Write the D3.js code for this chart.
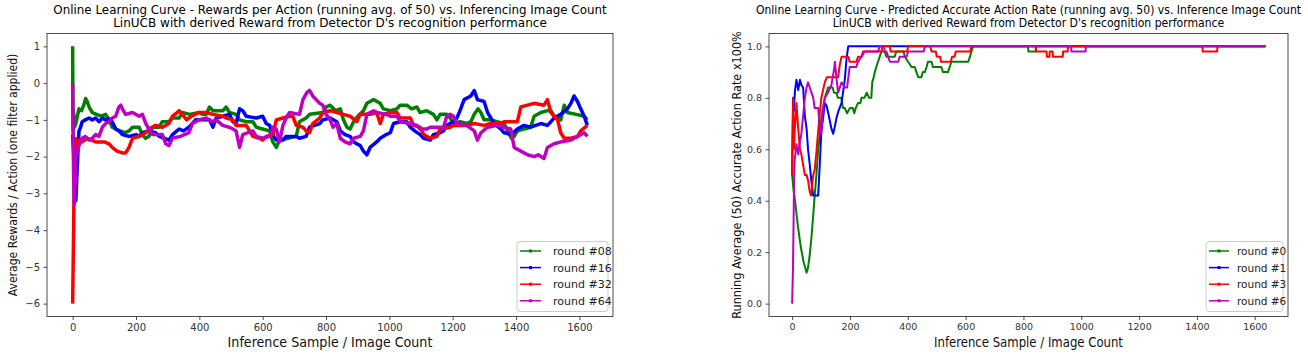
<!DOCTYPE html>
<html>
<head>
<meta charset="utf-8">
<script src="https://cdn.jsdelivr.net/npm/d3@7"></script>
<style>
  body { margin: 0; background: #fff; }
  svg text { font-family: "DejaVu Sans", sans-serif; }
  .axis path, .axis line { stroke: #222; stroke-width: 0.8; }
  .axis text { fill: #333; }
</style>
</head>
<body>
<svg id="chart" width="1308" height="355"></svg>
<script>
// ---- left chart: rewards per action, running avg of 50 ----
const reward08 = [[0,1],[1,-1.3],[3,-0.8],[6,-1.2],[10,-1.1],[15,-0.9],[20,-0.7],[28,-0.75],[35,-0.6],[41,-0.42],[46,-0.5],[52,-0.65],[62,-0.8],[75,-0.85],[90,-0.9],[104,-0.85],[115,-1.0],[125,-1.2],[136,-1.25],[150,-1.3],[165,-1.35],[178,-1.3],[189,-1.2],[210,-1.2],[220,-1.4],[230,-1.5],[241,-1.45],[252,-1.2],[273,-1.2],[283,-1.05],[304,-1.05],[315,-0.95],[336,-0.95],[346,-0.8],[370,-0.85],[399,-0.8],[410,-0.85],[422,-0.85],[432,-0.65],[443,-0.75],[474,-0.75],[485,-0.65],[495,-0.8],[516,-0.85],[527,-1.0],[548,-1.05],[569,-1.05],[580,-1.2],[600,-1.25],[622,-1.3],[632,-1.6],[643,-1.75],[653,-1.55],[680,-1.5],[706,-1.45],[716,-1.05],[737,-0.95],[748,-0.85],[790,-0.8],[800,-0.65],[813,-0.6],[830,-0.75],[845,-0.7],[855,-1.0],[866,-1.2],[876,-1.25],[887,-1.05],[900,-0.9],[918,-0.75],[929,-0.55],[950,-0.45],[971,-0.55],[981,-0.7],[1003,-0.75],[1024,-0.7],[1034,-0.6],[1055,-0.6],[1070,-0.7],[1087,-0.65],[1097,-0.8],[1118,-0.75],[1139,-0.85],[1150,-1.0],[1160,-0.85],[1181,-0.85],[1192,-0.95],[1202,-1.1],[1223,-1.05],[1244,-1.1],[1257,-1.05],[1268,-0.85],[1280,-0.7],[1289,-0.8],[1299,-1.0],[1320,-1.0],[1340,-1.05],[1362,-1.1],[1373,-1.3],[1385,-1.5],[1394,-1.45],[1404,-1.3],[1425,-1.25],[1446,-1.2],[1457,-0.9],[1478,-0.8],[1499,-0.75],[1510,-0.75],[1520,-0.9],[1541,-1.0],[1552,-0.6],[1562,-0.8],[1590,-0.85],[1615,-0.9],[1625,-1.0]];
const reward16 = [[0,-1.4],[3,-1.9],[6,-2.6],[10,-3.2],[13,-2.6],[16,-2.0],[20,-1.3],[25,-1.2],[30,-1.05],[40,-1.0],[52,-0.95],[62,-1.0],[73,-0.95],[83,-1.05],[94,-0.95],[104,-1.0],[115,-0.97],[125,-1.05],[136,-1.25],[146,-1.3],[157,-1.4],[178,-1.45],[200,-1.4],[210,-1.45],[220,-1.35],[241,-1.3],[262,-1.35],[273,-1.45],[290,-1.5],[304,-1.55],[315,-1.4],[336,-1.25],[350,-1.3],[367,-1.2],[388,-1.0],[400,-1.0],[422,-1.0],[432,-1.0],[443,-1.2],[453,-0.95],[474,-0.9],[495,-0.85],[506,-1.05],[516,-1.1],[527,-0.7],[537,-0.75],[548,-0.9],[580,-0.95],[600,-0.9],[611,-1.1],[622,-1.15],[632,-1.4],[643,-1.55],[664,-1.55],[674,-1.45],[706,-1.45],[716,-1.5],[737,-1.45],[748,-1.2],[780,-1.1],[790,-1.0],[813,-0.95],[834,-1.05],[845,-1.3],[860,-1.4],[876,-1.45],[887,-1.6],[908,-1.7],[918,-1.85],[929,-1.95],[939,-1.75],[960,-1.6],[971,-1.5],[990,-1.4],[1003,-1.35],[1013,-1.1],[1034,-1.05],[1055,-1.05],[1066,-1.2],[1080,-1.3],[1097,-1.4],[1108,-1.5],[1129,-1.55],[1139,-1.4],[1160,-1.35],[1171,-1.3],[1181,-1.15],[1202,-1.05],[1213,-0.95],[1223,-0.75],[1236,-0.45],[1257,-0.35],[1268,-0.2],[1278,-0.45],[1299,-0.5],[1310,-0.8],[1331,-1.1],[1352,-1.25],[1362,-1.35],[1385,-1.4],[1404,-1.25],[1425,-1.15],[1446,-1.2],[1478,-1.1],[1499,-1.15],[1510,-1.05],[1520,-0.95],[1541,-0.85],[1562,-0.7],[1573,-0.55],[1583,-0.35],[1594,-0.5],[1604,-0.7],[1615,-0.9],[1625,-1.15]];
const reward32 = [[0,-6],[3,-4],[5,-2.5],[8,-1.5],[12,-1.8],[16,-1.6],[20,-1.55],[30,-1.6],[45,-1.5],[60,-1.55],[73,-1.6],[83,-1.6],[100,-1.6],[115,-1.65],[125,-1.75],[140,-1.85],[157,-1.9],[167,-1.9],[178,-1.75],[189,-1.5],[210,-1.45],[231,-1.35],[241,-1.25],[262,-1.15],[283,-1.2],[304,-1.1],[315,-0.9],[330,-0.8],[336,-0.75],[346,-0.85],[360,-1.0],[375,-0.9],[399,-0.8],[422,-0.8],[443,-0.85],[474,-0.9],[485,-0.95],[506,-1.0],[516,-1.15],[548,-1.15],[569,-1.45],[590,-1.5],[600,-1.55],[611,-1.45],[632,-1.4],[643,-1.0],[664,-0.95],[685,-0.9],[695,-0.9],[706,-1.15],[727,-1.2],[737,-1.3],[748,-1.35],[758,-1.1],[780,-0.95],[790,-0.8],[813,-0.75],[834,-0.8],[855,-0.85],[876,-0.9],[897,-1.05],[908,-0.85],[939,-0.85],[960,-0.8],[971,-1.1],[981,-0.85],[1003,-0.8],[1024,-0.8],[1034,-0.95],[1066,-0.95],[1076,-1.15],[1097,-1.2],[1108,-1.4],[1129,-1.5],[1150,-1.45],[1160,-1.25],[1192,-1.2],[1202,-1.15],[1244,-1.15],[1268,-1.1],[1299,-1.15],[1320,-1.1],[1352,-1.1],[1362,-1.05],[1404,-1.05],[1415,-0.65],[1436,-0.6],[1457,-0.55],[1488,-0.6],[1499,-0.45],[1510,-0.8],[1531,-1.0],[1541,-1.35],[1552,-1.5],[1573,-1.5],[1594,-1.45],[1604,-1.3],[1625,-1.15]];
const reward64 = [[0,0],[3,-2.5],[5,-3.3],[8,-2.7],[10,-2.0],[14,-1.9],[20,-1.7],[30,-1.5],[40,-1.45],[52,-1.55],[62,-1.5],[73,-1.4],[83,-1.45],[94,-1.2],[104,-1.1],[115,-1.05],[125,-0.95],[136,-0.9],[146,-0.65],[152,-0.6],[157,-0.7],[167,-0.85],[189,-0.8],[210,-0.9],[220,-0.85],[231,-1.1],[241,-1.25],[252,-1.4],[283,-1.4],[294,-1.65],[304,-1.7],[315,-1.5],[340,-1.45],[367,-1.35],[378,-1.1],[399,-1.0],[422,-0.95],[440,-1.05],[453,-1.0],[474,-1.15],[495,-1.2],[506,-1.25],[516,-1.3],[527,-1.75],[537,-1.4],[569,-1.3],[580,-1.45],[600,-1.5],[622,-1.45],[632,-1.2],[643,-1.25],[653,-1.6],[664,-1.15],[674,-0.95],[685,-0.8],[716,-0.85],[727,-0.45],[740,-0.25],[748,-0.2],[758,-0.35],[780,-0.55],[790,-0.6],[800,-0.85],[813,-1.0],[822,-1.2],[834,-1.1],[845,-1.5],[860,-1.6],[876,-1.65],[887,-1.5],[908,-1.45],[918,-1.3],[929,-0.85],[950,-0.75],[960,-0.8],[992,-0.85],[1003,-0.9],[1024,-0.9],[1034,-1.05],[1066,-1.1],[1087,-1.15],[1097,-1.25],[1118,-1.25],[1129,-1.2],[1171,-1.2],[1181,-0.9],[1192,-0.85],[1202,-0.9],[1213,-1.1],[1244,-1.15],[1268,-1.3],[1278,-1.55],[1289,-1.35],[1310,-1.2],[1340,-1.15],[1360,-1.2],[1383,-1.25],[1394,-1.75],[1415,-1.85],[1436,-1.95],[1457,-2.0],[1470,-1.95],[1488,-2.05],[1499,-1.75],[1520,-1.65],[1541,-1.6],[1573,-1.55],[1594,-1.45],[1615,-1.35],[1625,-1.45]];

// ---- right chart: accurate action rate, running avg 50 ----
const rate0 = [[0,0.5],[5,0.44],[10,0.4],[20,0.3],[30,0.22],[40,0.16],[50,0.12],[55,0.14],[61,0.19],[67,0.26],[73,0.345],[78,0.42],[84,0.5],[90,0.6],[96,0.66],[101,0.72],[107,0.76],[113,0.8],[119,0.82],[124,0.84],[140,0.84],[145,0.82],[153,0.82],[158,0.8],[170,0.8],[176,0.76],[182,0.76],[190,0.74],[200,0.76],[210,0.76],[215,0.74],[220,0.76],[228,0.78],[236,0.78],[240,0.8],[250,0.8],[258,0.82],[266,0.8],[274,0.8],[277,0.86],[282,0.88],[286,0.9],[291,0.92],[297,0.94],[303,0.96],[309,0.98],[320,0.98],[326,0.96],[355,0.96],[360,0.98],[385,0.98],[390,0.96],[401,0.94],[413,0.92],[424,0.92],[430,0.9],[436,0.88],[447,0.88],[452,0.9],[459,0.9],[465,0.92],[470,0.94],[482,0.94],[487,0.92],[516,0.92],[522,0.9],[539,0.9],[545,0.92],[551,0.94],[609,0.94],[615,0.96],[620,0.98],[626,1.0],[816,1.0],[817,0.98],[843,0.98],[844,1.0],[1637,1.0]];
const rate1 = [[0,0.5],[3,0.8],[6,0.75],[10,0.83],[15,0.87],[21,0.83],[27,0.87],[32,0.85],[38,0.84],[44,0.73],[50,0.68],[55,0.6],[61,0.54],[67,0.47],[73,0.42],[90,0.42],[96,0.55],[101,0.67],[107,0.72],[113,0.78],[119,0.77],[125,0.74],[136,0.68],[142,0.66],[148,0.69],[153,0.72],[159,0.745],[171,0.78],[176,0.82],[182,0.87],[188,0.95],[194,1.0],[1637,1.0]];
const rate3 = [[0,0.5],[2,0.67],[4,0.8],[6,0.6],[9,0.67],[15,0.78],[21,0.68],[27,0.6],[32,0.58],[38,0.54],[44,0.5],[50,0.5],[55,0.48],[60,0.44],[65,0.42],[73,0.5],[78,0.52],[84,0.59],[90,0.67],[96,0.745],[101,0.8],[107,0.83],[113,0.86],[120,0.88],[159,0.88],[165,0.93],[171,0.96],[194,0.96],[199,0.94],[222,0.94],[228,0.96],[240,0.96],[245,0.98],[309,0.98],[312,1.0],[338,1.0],[341,0.98],[398,0.98],[401,1.0],[478,1.0],[482,0.98],[497,0.98],[500,0.96],[512,0.96],[515,0.94],[549,0.94],[553,0.96],[562,0.96],[566,0.98],[616,0.98],[620,1.0],[842,1.0],[843,0.98],[880,0.98],[881,0.96],[890,0.96],[891,0.98],[901,0.98],[902,0.96],[936,0.96],[937,0.98],[953,0.98],[954,1.0],[1419,1.0],[1420,0.98],[1470,0.98],[1471,1.0],[1637,1.0]];
const rate6 = [[0,0],[3,0.14],[7,0.5],[9,0.56],[15,0.62],[21,0.58],[27,0.63],[32,0.66],[38,0.73],[44,0.8],[50,0.84],[55,0.86],[61,0.84],[67,0.82],[73,0.8],[78,0.76],[90,0.76],[96,0.68],[101,0.66],[107,0.76],[113,0.8],[124,0.82],[136,0.85],[145,0.91],[148,0.94],[153,0.88],[159,0.82],[171,0.86],[182,0.84],[190,0.84],[199,0.92],[222,0.92],[228,0.94],[240,0.96],[251,0.98],[297,0.98],[303,1.0],[318,1.0],[320,0.98],[326,0.98],[332,0.96],[338,0.94],[367,0.94],[372,0.96],[396,0.96],[401,0.98],[455,0.98],[459,1.0],[965,1.0],[966,0.98],[1015,0.98],[1016,1.0],[1637,1.0]];

const xTicks = [0, 200, 400, 600, 800, 1000, 1200, 1400, 1600];
const rewardTicks = [1, 0, -1, -2, -3, -4, -5, -6];
const rateTicks = [0.0, 0.2, 0.4, 0.6, 0.8, 1.0];
const subtitle = "LinUCB with derived Reward from Detector D's recognition performance";

class LineChart {
    constructor(_config, _series) {
        this.config = _config;
        this.series = _series;
        this.initVis();
    }

    addText(parent, x, y, size, len, str) {
        const t = parent.append("text")
            .attr("text-anchor", "middle")
            .attr("font-size", size + "px")
            .text(str);
        const w = t.node().getComputedTextLength();
        t.attr("transform", `translate(${x},${y}) scale(${len / w},1)`);
        return t;
    }

    initVis() {
        let vis = this;
        const c = vis.config;
        const top = 33.5, height = 283;

        vis.xScale = d3.scaleLinear().domain(c.xDomain).range([0, c.width]);
        vis.yScale = d3.scaleLinear().domain(c.yDomain).range([height, 0]);

        vis.chart = c.svg.append("g")
            .attr("transform", `translate(${c.left},${top})`);

        const line = d3.line()
            .x(d => vis.xScale(d[0]))
            .y(d => vis.yScale(d[1]));

        vis.chart.selectAll(".series")
            .data(vis.series)
            .join("path")
            .attr("class", "series")
            .attr("fill", "none")
            .attr("stroke", d => d.color)
            .attr("stroke-width", c.strokeWidth)
            .attr("stroke-linejoin", "round")
            .attr("d", d => line(d.values));

        // axes
        const xg = vis.chart.append("g")
            .attr("class", "axis")
            .attr("transform", `translate(0,${height})`)
            .call(d3.axisBottom(vis.xScale).tickValues(xTicks).tickFormat(d3.format("d")).tickSize(3.5).tickPadding(3.5));
        const yg = vis.chart.append("g")
            .attr("class", "axis")
            .call(d3.axisLeft(vis.yScale).tickValues(c.yTicks).tickFormat(c.yFormat).tickSize(3.5).tickPadding(3.5));
        [xg, yg].forEach(g => {
            g.select(".domain").remove();
            g.selectAll("text").attr("font-size", c.tickSize + "px");
        });

        vis.chart.append("rect")
            .attr("width", c.width)
            .attr("height", height)
            .attr("fill", "none")
            .attr("stroke", "#222")
            .attr("stroke-width", 0.8);

        // titles and labels
        const cx = c.width / 2;
        vis.addText(vis.chart, cx, -20, c.titleSize, c.titleLen, c.title);
        vis.addText(vis.chart, cx, -7, c.titleSize, c.subLen, subtitle);
        vis.addText(vis.chart, cx, height + 30, c.xLabelSize, c.xLabelLen, c.xLabel)
            .attr("fill", "#111");
        vis.addText(vis.chart.append("g")
                .attr("transform", `translate(${c.yLabelX},${height / 2}) rotate(-90)`),
            0, 0, c.yLabelSize, c.yLabelLen, c.yLabel)
            .attr("fill", "#111");

        // legend
        const lw = c.legendWidth, lh = 70;
        vis.legend = vis.chart.append("g")
            .attr("transform", `translate(${c.width - lw - 5},${height - lh - 5})`);

        vis.legend.append("rect")
            .attr("width", lw).attr("height", lh)
            .attr("rx", 3)
            .attr("fill", "white")
            .attr("fill-opacity", 0.8)
            .attr("stroke", "#ccc");

        const rows = vis.legend.selectAll(".row")
            .data(vis.series)
            .join("g")
            .attr("transform", (d, i) => `translate(3,${9.5 + i * 16.6})`);

        rows.append("line")
            .attr("x1", 0).attr("x2", c.legendLine)
            .attr("stroke", d => d.color)
            .attr("stroke-width", 1.5);
        rows.append("rect")
            .attr("x", c.legendLine / 2 - 1.5).attr("y", -1.5)
            .attr("width", 3).attr("height", 3)
            .attr("fill", d => d.color);
        rows.append("text")
            .attr("x", c.legendText).attr("y", 4)
            .attr("font-size", c.legendSize + "px")
            .attr("fill", "#222")
            .text(d => d.name);
    }
}

const svg = d3.select("#chart");

new LineChart({
    svg: svg,
    left: 47,
    width: 566,
    xDomain: [-81, 1706],
    yDomain: [-6.35, 1.35],
    yTicks: rewardTicks,
    yFormat: d3.format("d"),
    tickSize: 10,
    title: "Online Learning Curve - Rewards per Action (running avg. of 50) vs. Inferencing Image Count",
    titleSize: 12.5, titleLen: 554, subLen: 434,
    xLabel: "Inference Sample / Image Count",
    xLabelSize: 14, xLabelLen: 205,
    yLabel: "Average Rewards / Action (one filter applied)",
    yLabelX: -30, yLabelSize: 12.5, yLabelLen: 243,
    strokeWidth: 3.5,
    legendWidth: 91, legendLine: 21, legendText: 33, legendSize: 11
}, [
    { name: "round #08", color: "#008000", values: reward08 },
    { name: "round #16", color: "#0000ff", values: reward16 },
    { name: "round #32", color: "#ff0000", values: reward32 },
    { name: "round #64", color: "#bf00bf", values: reward64 }
]);

new LineChart({
    svg: svg,
    left: 769,
    width: 519,
    xDomain: [-80, 1715],
    yDomain: [-0.05, 1.05],
    yTicks: rateTicks,
    yFormat: d3.format(".1f"),
    tickSize: 9.5,
    title: "Online Learning Curve - Predicted Accurate Action Rate (running avg. 50) vs. Inference Image Count",
    titleSize: 12, titleLen: 546, subLen: 392,
    xLabel: "Inference Sample / Image Count",
    xLabelSize: 13.5, xLabelLen: 189,
    yLabel: "Running Average (50) Accurate Action Rate x100%",
    yLabelX: -28, yLabelSize: 12.5, yLabelLen: 288,
    strokeWidth: 2,
    legendWidth: 77, legendLine: 20, legendText: 28, legendSize: 10.5
}, [
    { name: "round #0", color: "#008000", values: rate0 },
    { name: "round #1", color: "#0000ff", values: rate1 },
    { name: "round #3", color: "#ff0000", values: rate3 },
    { name: "round #6", color: "#bf00bf", values: rate6 }
]);
</script>
</body>
</html>
